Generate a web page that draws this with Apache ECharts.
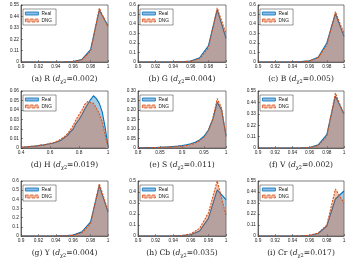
<!DOCTYPE html>
<html><head><meta charset="utf-8">
<script src="https://cdn.jsdelivr.net/npm/echarts@6/dist/echarts.min.js"></script>
<style>html,body{margin:0;padding:0;background:#fff}#c{width:358px;height:261px}</style>
</head><body><div id="c"></div>
<script>
// ---------- data ----------
const xBins = [0.90,0.91,0.92,0.93,0.94,0.95,0.96,0.97,0.98,0.99,1.00];
const xH = [0.40,0.42,0.44,0.46,0.48,0.50,0.52,0.54,0.56,0.58,0.60,0.62,0.64,0.66,0.68,0.70,0.72,0.74,0.76,0.78,0.80,0.82,0.84,0.86,0.88,0.90,0.92,0.94,0.96,0.98,1.00];
const xS = [0.80,0.81,0.82,0.83,0.84,0.85,0.86,0.87,0.88,0.89,0.90,0.91,0.92,0.93,0.94,0.95,0.96,0.97,0.98,0.99,1.00];

const realR = [0,0,0,0,0,0.001,0.004,0.025,0.12,0.50,0.35];
const dngR  = [0,0,0,0,0,0.001,0.003,0.02,0.105,0.52,0.34];
const realG = [0,0,0,0,0.001,0.003,0.01,0.045,0.17,0.55,0.25];
const dngG  = [0,0,0,0,0.001,0.002,0.008,0.035,0.15,0.57,0.30];
const realB = [0,0,0,0,0.001,0.004,0.012,0.05,0.20,0.51,0.27];
const dngB  = [0,0,0,0,0.001,0.003,0.01,0.045,0.18,0.53,0.30];
const realH = [0.0005,0.001,0.0012,0.0015,0.0018,0.002,0.0025,0.003,0.0033,0.004,0.0045,0.005,0.006,0.007,0.0085,0.011,0.013,0.017,0.02,0.026,0.03,0.035,0.041,0.046,0.051,0.055,0.052,0.047,0.038,0.022,0.002];
const dngH  = [0.0008,0.001,0.0015,0.0015,0.002,0.0022,0.0025,0.003,0.0035,0.004,0.005,0.0055,0.0065,0.008,0.01,0.012,0.015,0.019,0.024,0.03,0.035,0.04,0.046,0.049,0.048,0.047,0.042,0.036,0.028,0.014,0.001];
const realS = [0.001,0.001,0.002,0.002,0.003,0.004,0.005,0.006,0.008,0.01,0.013,0.017,0.022,0.03,0.042,0.062,0.095,0.15,0.24,0.20,0.065];
const dngS  = [0.001,0.001,0.001,0.002,0.002,0.003,0.004,0.005,0.006,0.008,0.01,0.013,0.018,0.026,0.038,0.058,0.092,0.155,0.26,0.21,0.06];
const realV = [0,0,0,0,0,0.001,0.005,0.03,0.13,0.50,0.33];
const dngV  = [0,0,0,0,0,0.001,0.004,0.022,0.115,0.53,0.32];
const realY = [0,0,0,0,0.001,0.003,0.01,0.045,0.155,0.55,0.26];
const dngY  = [0,0,0,0,0.001,0.002,0.008,0.035,0.135,0.57,0.28];
const realCb = [0,0,0,0,0.001,0.003,0.012,0.045,0.16,0.42,0.33];
const dngCb  = [0,0,0,0,0.001,0.004,0.02,0.07,0.21,0.50,0.19];
const realCr = [0,0,0,0,0,0.002,0.005,0.025,0.10,0.37,0.45];
const dngCr  = [0,0,0,0,0,0.002,0.006,0.03,0.11,0.47,0.33];

const panelLetters = ['a','b','c','d','e','f','g','h','i'];
const panelChannels = ['R','G','B','H','S','V','Y','Cb','Cr'];
const panelDist = ['0.002','0.004','0.005','0.019','0.011','0.002','0.004','0.035','0.017'];
const panelX = [xBins,xBins,xBins,xH,xS,xBins,xBins,xBins,xBins];
const panelReal = [realR,realG,realB,realH,realS,realV,realY,realCb,realCr];
const panelDng = [dngR,dngG,dngB,dngH,dngS,dngV,dngY,dngCb,dngCr];
const xMinT = [0.9,0.9,0.9,0.4,0.8,0.9,0.9,0.9,0.9];
const xStepT = [0.02,0.02,0.02,0.2,0.05,0.02,0.02,0.02,0.02];
const yMaxT = [0.55,0.6,0.6,0.06,0.30,0.55,0.6,0.5,0.55];
const yStepT = [0.11,0.1,0.1,0.01,0.05,0.11,0.1,0.1,0.11];
const yDec = [2,1,1,2,2,2,1,1,2];
const seriesNames = ['Real','DNG'];

// ---------- layout ----------
const colL = [21,138,258], colR = [108,226,344];
const rowT = [5,91,181], rowB = [62,148,236];

const grid=[], xAxis=[], yAxis=[], series=[], legend=[];
const axisCol = '#262626';
for (let i=0;i<9;i++){
  const c=i%3, r=Math.floor(i/3);
  grid.push({left:colL[c], top:rowT[r], width:colR[c]-colL[c], height:rowB[r]-rowT[r],
    show:true, borderColor:axisCol, borderWidth:0.6, backgroundColor:'#fff', containLabel:false});
  xAxis.push({type:'value', gridIndex:i, min:xMinT[i], max:1, interval:xStepT[i],
    axisLine:{lineStyle:{color:axisCol,width:0.6}},
    axisTick:{inside:true,length:2,lineStyle:{color:axisCol,width:0.5}},
    splitLine:{show:false},
    axisLabel:{fontSize:4.8, color:'#262626', margin:2, fontFamily:'Liberation Sans',
      formatter:v=>String(+v.toFixed(2))},
    name:`(${panelLetters[i]}) ${panelChannels[i]} ({d|d}{s|χ2}=${panelDist[i]})`,
    nameLocation:'middle', nameGap:12,
    nameTextStyle:{fontFamily:'DejaVu Serif', fontSize:7.6, color:'#222', lineHeight:10,
      rich:{d:{fontFamily:'DejaVu Serif',fontStyle:'italic',fontSize:7.6,color:'#222',lineHeight:10},
            s:{fontFamily:'DejaVu Serif',fontSize:5,color:'#222',verticalAlign:'bottom',lineHeight:10,padding:[3,0,0,0]}}}
  });
  yAxis.push({type:'value', gridIndex:i, min:0, max:yMaxT[i], interval:yStepT[i],
    axisLine:{show:true,lineStyle:{color:axisCol,width:0.6}},
    axisTick:{show:true,inside:true,length:2,lineStyle:{color:axisCol,width:0.5}},
    splitLine:{show:false},
    axisLabel:{fontSize:4.8, color:'#262626', margin:2, fontFamily:'Liberation Sans',
      formatter:(v=> v===0?'0':v.toFixed(yDec[i]))}
  });
  const xs=panelX[i];
  series.push({name:seriesNames[0], type:'line', xAxisIndex:i, yAxisIndex:i, symbol:'none',
    data:xs.map((x,k)=>[x,panelReal[i][k]]),
    lineStyle:{color:'#0072BD',width:1.1}, itemStyle:{color:'#0072BD'},
    areaStyle:{color:'rgba(0,114,189,0.5)'}, silent:true, z:2});
  series.push({name:seriesNames[1], type:'line', xAxisIndex:i, yAxisIndex:i, symbol:'none',
    data:xs.map((x,k)=>[x,panelDng[i][k]]),
    lineStyle:{color:'#D95319',width:1.1,type:[2,1.2]}, itemStyle:{color:'#D95319'},
    areaStyle:{color:'rgba(217,83,25,0.5)'}, silent:true, z:3});
  legend.push({orient:'vertical', left:colL[c]+2, top:rowT[r]+4,
    backgroundColor:'#fff', borderColor:'#333', borderWidth:0.5, padding:[2,4,2,2],
    itemGap:2, itemWidth:13, itemHeight:3,
    textStyle:{fontSize:4.8, color:'#222', fontFamily:'Liberation Sans', padding:[0,0,0,-2]},
    data:[
      {name:'Real', icon:'rect', itemStyle:{color:'#8dbbe3', borderColor:'#0072BD', borderWidth:0.8}},
      {name:'DNG', icon:'rect', itemStyle:{color:'#f0b49c', borderColor:'#D95319', borderWidth:0.8, borderType:'dashed'}}
    ]});
}

const chart = echarts.init(document.getElementById('c'), null, {renderer:'canvas'});
chart.setOption({animation:false, backgroundColor:'#fff', grid, xAxis, yAxis, series, legend});
</script></body></html>
